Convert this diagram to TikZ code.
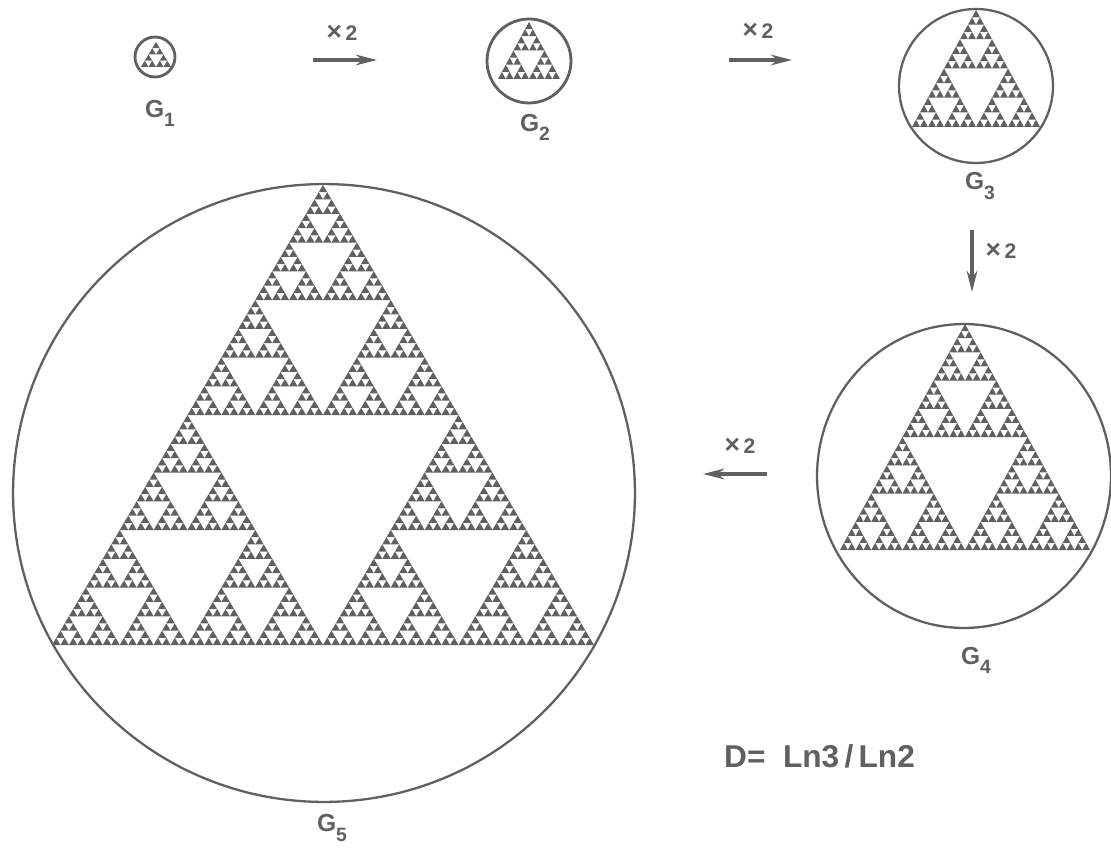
\documentclass[tikz,border=0pt]{standalone}
\usepackage{fontspec}
\setmainfont{Liberation Sans}
\usetikzlibrary{arrows.meta}
\definecolor{ink}{HTML}{5E615D}

% filled Sierpinski gasket in the unit triangle (0,0)-(1,0)-(0.5,1)
\newcommand\sierp[1]{%
  \ifnum#1<1
    \fill (0,0) -- (1,0) -- (0.5,1) -- cycle;
  \else
    \begin{scope}[scale=0.5]\sierp{\numexpr#1-1\relax}\end{scope}%
    \begin{scope}[shift={(0.5,0)},scale=0.5]\sierp{\numexpr#1-1\relax}\end{scope}%
    \begin{scope}[shift={(0.25,0.5)},scale=0.5]\sierp{\numexpr#1-1\relax}\end{scope}%
  \fi}
\newcommand\glab[1]{G\raisebox{-0.7ex}{\fontsize{11}{12}\selectfont #1}}
\newcommand\dbl{{\fontsize{15}{15}\selectfont ×}\,2}

\tikzset{
  ring/.style={draw=ink, line width=1.3pt},
  doubling/.style={draw=ink, line width=2.2pt, -{Stealth[length=12pt,width=6pt]}},
  lab/.style={text=ink, font=\fontsize{14}{16}\selectfont\bfseries},
  times/.style={text=ink, font=\fontsize{12}{14}\selectfont\bfseries},
}

\begin{document}
\begin{tikzpicture}[x=0.02cm, y=-0.02cm]
  \useasboundingbox (0,0) rectangle (1111,854);
  % ---- G1 ----
  \draw[ring, line width=1.6pt] (155,57) circle (0.4cm);
  \begin{scope}[shift={(141,67)}, xscale=30, yscale=-25, fill=ink]
    \sierp{2}
  \end{scope}
  \node[lab] (g1) at (160,113) {\glab{1}};
  % ---- G2 ----
  \draw[ring, line width=1.6pt] (529,61) circle (0.84cm);
  \begin{scope}[shift={(498,79)}, xscale=62, yscale=-57, fill=ink]
    \sierp{3}
  \end{scope}
  \node[lab] (g2) at (535,127) {\glab{2}};
  % ---- G3 ----
  \draw[ring] (976,86) circle (1.54cm);
  \begin{scope}[shift={(912,127)}, xscale=128, yscale=-117, fill=ink]
    \sierp{4}
  \end{scope}
  \node[lab] (g3) at (980,186) {\glab{3}};
  % ---- G4 ----
  \draw[ring] (964,476) ellipse [x radius=2.94cm, y radius=3.04cm];
  \begin{scope}[shift={(840,550)}, xscale=250, yscale=-226, fill=ink]
    \sierp{5}
  \end{scope}
  \node[lab] (g4) at (976,660) {\glab{4}};
  % ---- G5 ----
  \draw[ring] (324,493) ellipse [x radius=6.22cm, y radius=6.18cm];
  \begin{scope}[shift={(52,645)}, xscale=542, yscale=-460, fill=ink]
    \sierp{6}
  \end{scope}
  \node[lab] (g5) at (332,828) {\glab{5}};
  % ---- arrows ----
  \coordinate (a1s) at (313,60);  \coordinate (a1e) at (377,60);
  \coordinate (a2s) at (729,60);  \coordinate (a2e) at (792,60);
  \coordinate (a3s) at (972,230); \coordinate (a3e) at (972,292);
  \coordinate (a4s) at (767,474); \coordinate (a4e) at (703,474);
  \draw[doubling] (a1s) -- (a1e);
  \draw[doubling] (a2s) -- (a2e);
  \draw[doubling] (a3s) -- (a3e);
  \draw[doubling] (a4s) -- (a4e);
  \node[times] (t1) at (342,33) {\dbl};
  \node[times] (t2) at (758,31) {\dbl};
  \node[times] (t3) at (1001,251) {\dbl};
  \node[times] (t4) at (740,446) {\dbl};
  % ---- dimension ----
  \node[text=ink, font=\fontsize{18}{20}\selectfont\bfseries, anchor=west]
    (dim) at (718,756) {D= \ Ln3\,/\,Ln2};
\end{tikzpicture}
\end{document}
